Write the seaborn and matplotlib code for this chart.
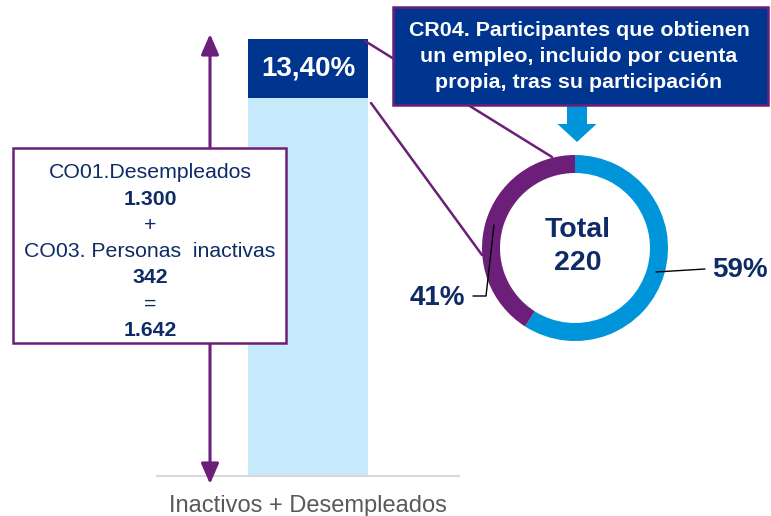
import matplotlib
matplotlib.use("Agg")
import matplotlib.pyplot as plt
import matplotlib.patches as mpatches
import seaborn as sns

# -- Data --------------------------------------------------------------------
categories = ["Inactivos + Desempleados"]
desempleados = 1300
inactivos = 342
total = [desempleados + inactivos]
empleados = [220]
resto = [t - e for t, e in zip(total, empleados)]

donut_labels = ["59%", "41%"]
donut_values = [59, 41]

callout_lines = ["CR04. Participantes que obtienen",
                 "un empleo, incluido por cuenta",
                 "propia, tras su participación"]

def miles(n):
    return f"{n:,}".replace(",", ".")

box_lines = [("CO01.Desempleados", False), (miles(desempleados), True), ("+", False),
             ("CO03. Personas  inactivas", False), (miles(inactivos), True), ("=", False),
             (miles(total[0]), True)]

# -- Colours -----------------------------------------------------------------
NAVY = "#0F2B66"
DARK_BLUE = "#00358F"
LIGHT_BLUE = "#C6E9FB"
PURPLE = "#6C1F78"
BLUE = "#0095DA"

sns.set_theme(style="white")
plt.rcParams["font.family"] = ["Liberation Sans", "DejaVu Sans"]

W, H = 771, 516
fig = plt.figure(figsize=(W / 100, H / 100), dpi=100)

# -- Stacked bar -------------------------------------------------------------
ax = fig.add_axes([157 / W, (H - 476) / H, 302 / W, (476 - 39) / H], zorder=1)
sns.barplot(x=categories, y=total, color=DARK_BLUE, saturation=1, width=0.4,
            linewidth=0, ax=ax)
sns.barplot(x=categories, y=resto, color=LIGHT_BLUE, saturation=1, width=0.4,
            linewidth=0, ax=ax)
ax.set_xlim(-0.5, 0.5)
ax.set_ylim(0, total[0])
ax.set_yticks([])
for s in ["top", "right", "left"]:
    ax.spines[s].set_visible(False)
ax.spines["bottom"].set_color("#D9D9D9")
ax.spines["bottom"].set_linewidth(1.5)
ax.tick_params(axis="x", length=0, pad=14, labelsize=17, labelcolor="#595959")
ax.patch.set_alpha(0)
pct = empleados[0] / total[0] * 100
ax.text(0, resto[0] + empleados[0] / 2, f"{pct:.2f}%".replace(".", ","),
        ha="center", va="center", color="white", fontsize=20, fontweight="bold")

# -- Donut -------------------------------------------------------------------
R = 93
dax = fig.add_axes([(575 - 100) / W, (H - 248 - 100) / H, 200 / W, 200 / H], zorder=2)
dax.pie(donut_values, colors=[BLUE, PURPLE], startangle=90, counterclock=False,
        radius=R, wedgeprops=dict(width=18, linewidth=0))
dax.set_xlim(-100, 100)
dax.set_ylim(-100, 100)
dax.axis("off")

# -- Overlay in pixel coordinates ---------------------------------------------
ov = fig.add_axes([0, 0, 1, 1], zorder=3)
ov.set_xlim(0, W)
ov.set_ylim(H, 0)
ov.axis("off")

# double arrow
ov.add_patch(mpatches.FancyArrowPatch((210, 484), (210, 34),
             arrowstyle="<|-|>,head_length=0.62,head_width=0.27", mutation_scale=20,
             color=PURPLE, lw=2.2, shrinkA=0, shrinkB=0, zorder=2))

# formula box
ov.add_patch(mpatches.Rectangle((13, 148), 273, 195, fc="white", ec=PURPLE, lw=1.8, zorder=3))
for i, (txt, bold) in enumerate(box_lines):
    ov.text(150, 173 + i * 26.2, txt, ha="center", va="center", color=NAVY,
            fontsize=15.3, fontweight="bold" if bold else "normal", zorder=4)

# connector lines
ov.plot([365, 552], [41, 157], color=PURPLE, lw=1.8, zorder=2)
ov.plot([371, 482], [103, 255], color=PURPLE, lw=1.8, zorder=2)

# callout
ov.add_patch(mpatches.Rectangle((393, 7), 375, 98, fc=DARK_BLUE, ec=PURPLE, lw=1.8, zorder=5))
for i, txt in enumerate(callout_lines):
    ov.text(579, 31 + i * 25.5, txt, ha="center", va="center", color="white",
            fontsize=15.4, fontweight="bold", zorder=6)
ov.add_patch(mpatches.FancyArrow(577, 105, 0, 37, width=20, head_width=39, head_length=18,
             length_includes_head=True, color=BLUE, lw=0, zorder=4))

# donut labels
ov.text(578, 230, "Total", ha="center", va="center", color=NAVY, fontsize=20.5, fontweight="bold")
ov.text(578, 263, "220", ha="center", va="center", color=NAVY, fontsize=20.5, fontweight="bold")
ov.plot([656, 705], [272, 269], color="black", lw=1)
ov.text(712, 270, donut_labels[0], ha="left", va="center", color=NAVY, fontsize=20, fontweight="bold")
ov.plot([494, 486, 473], [225, 296, 296], color="black", lw=1)
ov.text(465, 298, donut_labels[1], ha="right", va="center", color=NAVY, fontsize=20, fontweight="bold")

fig.savefig("out.png", dpi=100)
